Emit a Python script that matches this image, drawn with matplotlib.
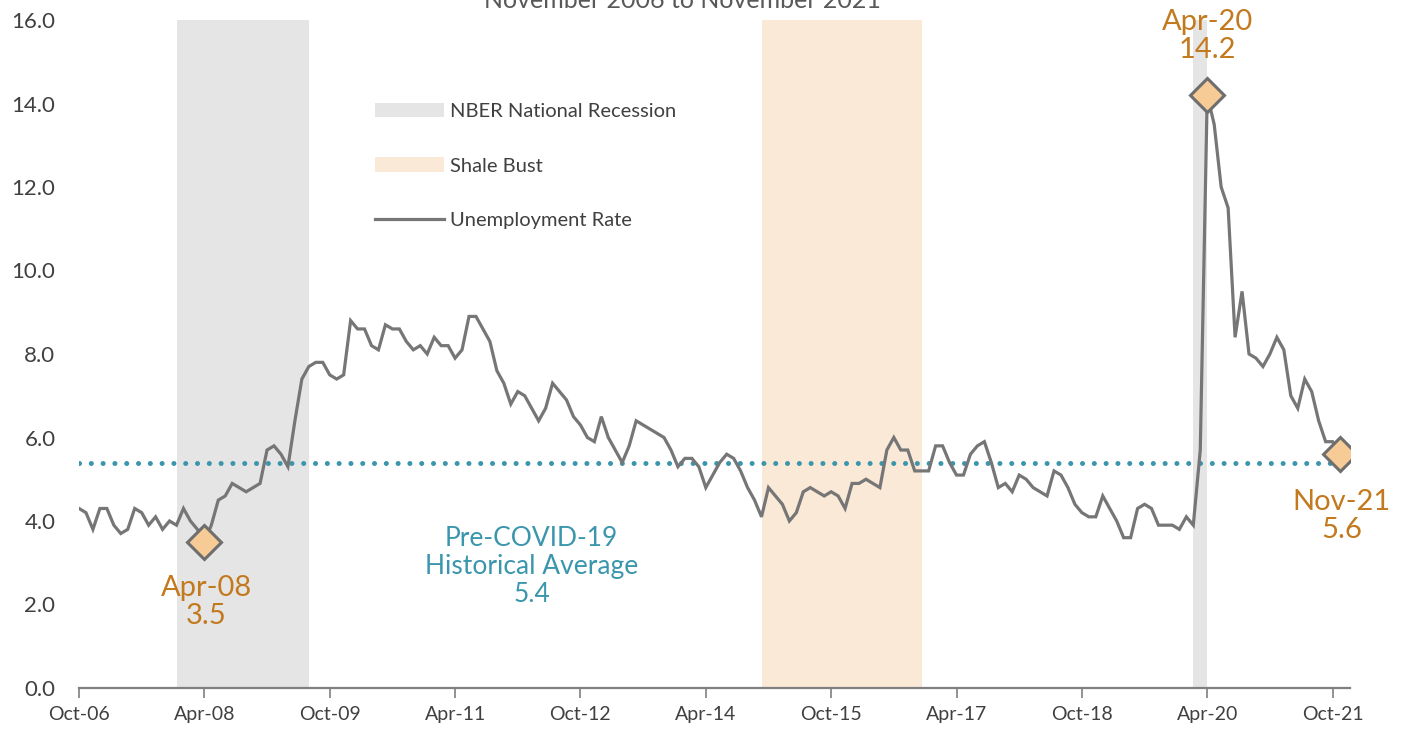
import matplotlib
matplotlib.use("Agg")
import matplotlib.pyplot as plt
from matplotlib.patches import Patch
from matplotlib.lines import Line2D
import numpy as np
import pandas as pd

# ---------------- data ----------------
start_month = "2006-10"
unemployment_rate = [
    4.3, 4.2, 3.8, 4.3, 4.3, 3.9, 3.7, 3.8, 4.3, 4.2, 3.9, 4.1, 3.8, 4.0, 3.9, 4.3, 4.0, 3.8,
    3.5, 3.9, 4.5, 4.6, 4.9, 4.8, 4.7, 4.8, 4.9, 5.7, 5.8, 5.6, 5.3, 6.4, 7.4, 7.7, 7.8, 7.8,
    7.5, 7.4, 7.5, 8.8, 8.6, 8.6, 8.2, 8.1, 8.7, 8.6, 8.6, 8.3, 8.1, 8.2, 8.0, 8.4, 8.2, 8.2,
    7.9, 8.1, 8.9, 8.9, 8.6, 8.3, 7.6, 7.3, 6.8, 7.1, 7.0, 6.7, 6.4, 6.7, 7.3, 7.1, 6.9, 6.5,
    6.3, 6.0, 5.9, 6.5, 6.0, 5.7, 5.4, 5.8, 6.4, 6.3, 6.2, 6.1, 6.0, 5.7, 5.3, 5.5, 5.5, 5.3,
    4.8, 5.1, 5.4, 5.6, 5.5, 5.2, 4.8, 4.5, 4.1, 4.8, 4.6, 4.4, 4.0, 4.2, 4.7, 4.8, 4.7, 4.6,
    4.7, 4.6, 4.3, 4.9, 4.9, 5.0, 4.9, 4.8, 5.7, 6.0, 5.7, 5.7, 5.2, 5.2, 5.2, 5.8, 5.8, 5.4,
    5.1, 5.1, 5.6, 5.8, 5.9, 5.4, 4.8, 4.9, 4.7, 5.1, 5.0, 4.8, 4.7, 4.6, 5.2, 5.1, 4.8, 4.4,
    4.2, 4.1, 4.1, 4.6, 4.3, 4.0, 3.6, 3.6, 4.3, 4.4, 4.3, 3.9, 3.9, 3.9, 3.8, 4.1, 3.9, 5.7,
    14.2, 13.5, 12.0, 11.5, 8.4, 9.5, 8.0, 7.9, 7.7, 8.0, 8.4, 8.1, 7.0, 6.7, 7.4, 7.1, 6.4, 5.9,
    5.9, 5.6,
]
historical_average = 5.4
tick_labels = ["Oct-06", "Apr-08", "Oct-09", "Apr-11", "Oct-12", "Apr-14",
               "Oct-15", "Apr-17", "Oct-18", "Apr-20", "Oct-21"]
recession_periods = [("Dec-07", "Jun-09"), ("Feb-20", "Mar-20")]
shale_periods = [("Dec-14", "Oct-16")]
highlight_months = ["Apr-08", "Apr-20", "Nov-21"]
y_ticks = [0, 2, 4, 6, 8, 10, 12, 14, 16]

months = pd.period_range(start=start_month, periods=len(unemployment_rate), freq="M")
month_labels = [p.strftime("%b-%y") for p in months]
idx = {lab: i for i, lab in enumerate(month_labels)}
x = np.arange(len(unemployment_rate))
rate = np.array(unemployment_rate)

# ---------------- style ----------------
plt.rcParams["font.family"] = ["Lato", "DejaVu Sans"]
GREY_BAND = "#E5E5E5"
SHALE = "#F9E9D6"
LINE = "#767676"
TEAL = "#3A96AC"
ORANGE = "#C37A1F"
DIAMOND = "#F7CB96"
TXT = "#404040"

fig = plt.figure(figsize=(14.05, 7.30), dpi=100)
ax = fig.add_axes([79 / 1405, 42 / 730, (1350 - 79) / 1405, (688 - 20) / 730])

for a, b in recession_periods:
    ax.axvspan(idx[a], idx[b] + 1, color=GREY_BAND, lw=0, zorder=0)
for a, b in shale_periods:
    ax.axvspan(idx[a], idx[b] + 1, color=SHALE, lw=0, zorder=0)

ax.plot([x[0], x[-1]], [historical_average, historical_average], color=TEAL,
        lw=3.6, linestyle=(0, (0.01, 2.35)), dash_capstyle="round", zorder=2)
ax.plot(x, rate, color=LINE, lw=2.3, zorder=3, solid_joinstyle="miter")

for lab in highlight_months:
    i = idx[lab]
    ax.plot(x[i], rate[i], marker="D", ms=17, mfc=DIAMOND, mec="#6E6E6E",
            mew=2.2, zorder=4)

annot_offsets = {"Apr-08": (2, -60), "Apr-20": (0, 59), "Nov-21": (2, -62)}
for lab in highlight_months:
    i = idx[lab]
    ax.annotate(f"{lab}\n{rate[i]:.1f}", (x[i], rate[i]), xytext=annot_offsets[lab],
                textcoords="offset pixels", ha="center", va="center",
                color=ORANGE, fontsize=21, linespacing=1.1, zorder=5)

ax.text(idx["Mar-12"], 2.9, f"Pre-COVID-19\nHistorical Average\n{historical_average:.1f}",
        ha="center", va="center", color=TEAL, fontsize=19, linespacing=1.15)

ax.set_xlim(0, len(rate) + 0.5)
ax.set_ylim(0, 16)
ax.set_yticks(y_ticks)
ax.set_yticklabels([f"{v:.1f}" for v in y_ticks])
ax.set_xticks([idx[t] for t in tick_labels])
ax.set_xticklabels(tick_labels)
ax.tick_params(axis="y", length=0, labelsize=16, colors=TXT, pad=17)
ax.tick_params(axis="x", length=7, width=1.2, color="#7F7F7F", labelsize=14,
               labelcolor=TXT, pad=6)
for s in ["top", "right", "left"]:
    ax.spines[s].set_visible(False)
ax.spines["bottom"].set_color("#7F7F7F")
ax.spines["bottom"].set_linewidth(1.6)

handles = [Patch(facecolor=GREY_BAND, edgecolor="none", label="NBER National Recession"),
           Patch(facecolor=SHALE, edgecolor="none", label="Shale Bust"),
           Line2D([], [], color=LINE, lw=2.3, label="Unemployment Rate")]
leg = ax.legend(handles=handles, loc="upper left",
                bbox_to_anchor=((367 - 79) / 1271, (688 - 95) / 668),
                frameon=False, fontsize=14.5, labelspacing=1.85, handlelength=3.4,
                handletextpad=0.3, borderaxespad=0)
for t in leg.get_texts():
    t.set_color(TXT)

fig.text(682 / 1405, (730 - 8) / 730, "November 2006 to November 2021", ha="center",
         va="baseline", fontsize=18, color="#595959")

fig.savefig("out.png", dpi=100)
